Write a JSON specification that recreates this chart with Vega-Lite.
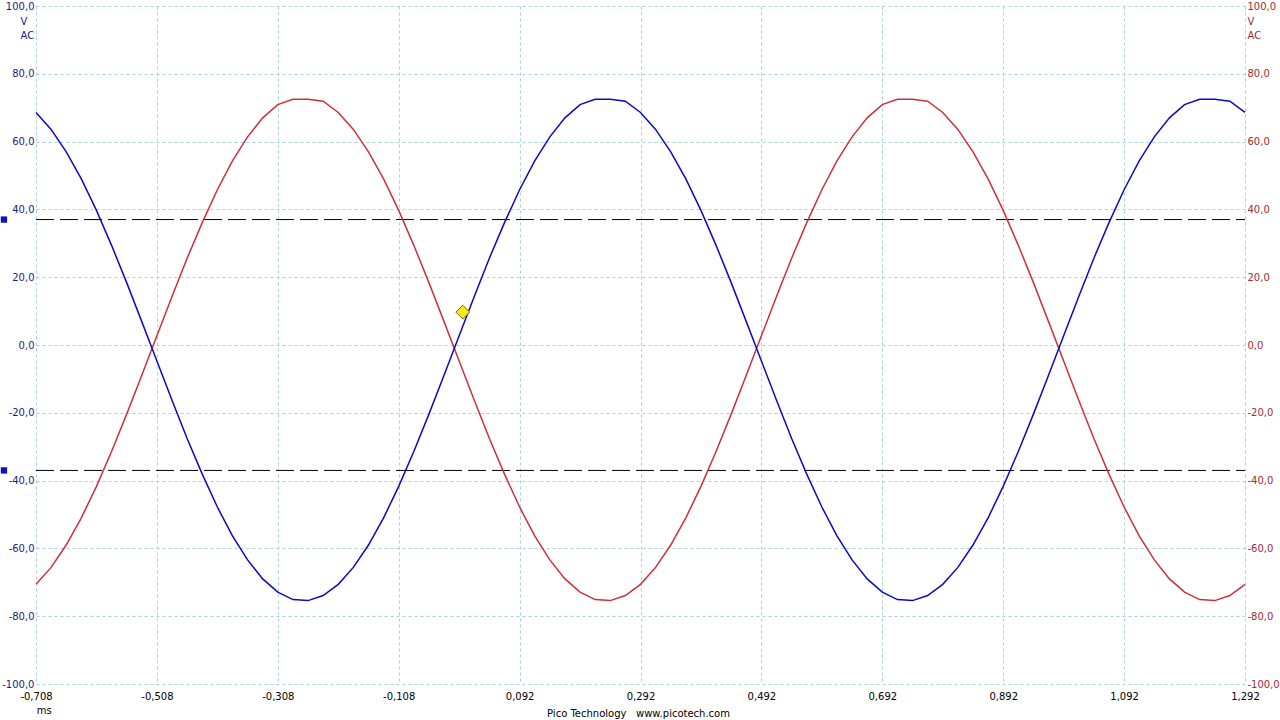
{
  "$schema": "https://vega.github.io/schema/vega-lite/v6.json",
  "width": 1209,
  "height": 678,
  "autosize": {"type": "none"},
  "padding": {"left": 36, "top": 6, "right": 35, "bottom": 36},
  "background": "white",
  "config": {"view": {"stroke": null}, "font": "DejaVu Sans"},
  "title": {"text": "ms", "orient": "bottom", "anchor": "start", "fontSize": 10, "fontWeight": "normal", "color": "#000000", "offset": 0, "dx": 36, "dy": -12},
  "datasets": {
    "wave": [
      {"t": -0.708, "blue": 68.6, "red": -70.6},
      {"t": -0.683, "blue": 63.6, "red": -65.6},
      {"t": -0.658, "blue": 57.0, "red": -59.0},
      {"t": -0.633, "blue": 49.0, "red": -51.0},
      {"t": -0.608, "blue": 39.7, "red": -41.7},
      {"t": -0.583, "blue": 29.4, "red": -31.4},
      {"t": -0.558, "blue": 18.4, "red": -20.4},
      {"t": -0.533, "blue": 6.9, "red": -8.9},
      {"t": -0.508, "blue": -4.7, "red": 2.7},
      {"t": -0.483, "blue": -16.3, "red": 14.3},
      {"t": -0.458, "blue": -27.6, "red": 25.6},
      {"t": -0.433, "blue": -38.1, "red": 36.1},
      {"t": -0.408, "blue": -47.8, "red": 45.8},
      {"t": -0.383, "blue": -56.3, "red": 54.3},
      {"t": -0.358, "blue": -63.4, "red": 61.4},
      {"t": -0.333, "blue": -69.0, "red": 67.0},
      {"t": -0.308, "blue": -72.9, "red": 70.9},
      {"t": -0.283, "blue": -75.1, "red": 72.5},
      {"t": -0.258, "blue": -75.4, "red": 72.5},
      {"t": -0.233, "blue": -73.9, "red": 71.9},
      {"t": -0.208, "blue": -70.6, "red": 68.6},
      {"t": -0.183, "blue": -65.6, "red": 63.6},
      {"t": -0.158, "blue": -59.0, "red": 57.0},
      {"t": -0.133, "blue": -51.0, "red": 49.0},
      {"t": -0.108, "blue": -41.7, "red": 39.7},
      {"t": -0.083, "blue": -31.4, "red": 29.4},
      {"t": -0.058, "blue": -20.4, "red": 18.4},
      {"t": -0.033, "blue": -8.9, "red": 6.9},
      {"t": -0.008, "blue": 2.7, "red": -4.7},
      {"t": 0.017, "blue": 14.3, "red": -16.3},
      {"t": 0.042, "blue": 25.6, "red": -27.6},
      {"t": 0.067, "blue": 36.1, "red": -38.1},
      {"t": 0.092, "blue": 45.8, "red": -47.8},
      {"t": 0.117, "blue": 54.3, "red": -56.3},
      {"t": 0.142, "blue": 61.4, "red": -63.4},
      {"t": 0.167, "blue": 67.0, "red": -69.0},
      {"t": 0.192, "blue": 70.9, "red": -72.9},
      {"t": 0.217, "blue": 72.5, "red": -75.1},
      {"t": 0.242, "blue": 72.5, "red": -75.4},
      {"t": 0.267, "blue": 71.9, "red": -73.9},
      {"t": 0.292, "blue": 68.6, "red": -70.6},
      {"t": 0.317, "blue": 63.6, "red": -65.6},
      {"t": 0.342, "blue": 57.0, "red": -59.0},
      {"t": 0.367, "blue": 49.0, "red": -51.0},
      {"t": 0.392, "blue": 39.7, "red": -41.7},
      {"t": 0.417, "blue": 29.4, "red": -31.4},
      {"t": 0.442, "blue": 18.4, "red": -20.4},
      {"t": 0.467, "blue": 6.9, "red": -8.9},
      {"t": 0.492, "blue": -4.7, "red": 2.7},
      {"t": 0.517, "blue": -16.3, "red": 14.3},
      {"t": 0.542, "blue": -27.6, "red": 25.6},
      {"t": 0.567, "blue": -38.1, "red": 36.1},
      {"t": 0.592, "blue": -47.8, "red": 45.8},
      {"t": 0.617, "blue": -56.3, "red": 54.3},
      {"t": 0.642, "blue": -63.4, "red": 61.4},
      {"t": 0.667, "blue": -69.0, "red": 67.0},
      {"t": 0.692, "blue": -72.9, "red": 70.9},
      {"t": 0.717, "blue": -75.1, "red": 72.5},
      {"t": 0.742, "blue": -75.4, "red": 72.5},
      {"t": 0.767, "blue": -73.9, "red": 71.9},
      {"t": 0.792, "blue": -70.6, "red": 68.6},
      {"t": 0.817, "blue": -65.6, "red": 63.6},
      {"t": 0.842, "blue": -59.0, "red": 57.0},
      {"t": 0.867, "blue": -51.0, "red": 49.0},
      {"t": 0.892, "blue": -41.7, "red": 39.7},
      {"t": 0.917, "blue": -31.4, "red": 29.4},
      {"t": 0.942, "blue": -20.4, "red": 18.4},
      {"t": 0.967, "blue": -8.9, "red": 6.9},
      {"t": 0.992, "blue": 2.7, "red": -4.7},
      {"t": 1.017, "blue": 14.3, "red": -16.3},
      {"t": 1.042, "blue": 25.6, "red": -27.6},
      {"t": 1.067, "blue": 36.1, "red": -38.1},
      {"t": 1.092, "blue": 45.8, "red": -47.8},
      {"t": 1.117, "blue": 54.3, "red": -56.3},
      {"t": 1.142, "blue": 61.4, "red": -63.4},
      {"t": 1.167, "blue": 67.0, "red": -69.0},
      {"t": 1.192, "blue": 70.9, "red": -72.9},
      {"t": 1.217, "blue": 72.5, "red": -75.1},
      {"t": 1.242, "blue": 72.5, "red": -75.4},
      {"t": 1.267, "blue": 71.9, "red": -73.9},
      {"t": 1.292, "blue": 68.6, "red": -70.6}
    ],
    "levels": [{"t": -0.708, "v": 37}, {"t": -0.708, "v": -37}],
    "handles": [{"t": -0.761, "v": 37}, {"t": -0.761, "v": -37}],
    "marker": [{"t": -0.002, "v": 9.7}]
  },
  "encoding": {
    "x": {
      "field": "t",
      "type": "quantitative",
      "scale": {"domain": [-0.708, 1.292], "nice": false, "zero": false},
      "axis": {
        "values": [-0.708, -0.508, -0.308, -0.108, 0.092, 0.292, 0.492, 0.692, 0.892, 1.092, 1.292],
        "labelExpr": "(datum.value < 0 ? '-' : '') + replace(format(abs(datum.value), '.3f'), '.', ',')",
        "grid": true,
        "gridColor": "#a8d0d8",
        "gridDash": [3, 3],
        "gridWidth": 1,
        "domain": false,
        "ticks": false,
        "labelFlush": false,
        "labelOverlap": false,
        "labelColor": "#000000",
        "labelFontSize": 10,
        "labelPadding": 7,
        "title": "Pico Technology\u00a0\u00a0\u00a0www.picotech.com",
        "titleFontSize": 10,
        "titleFontWeight": "normal",
        "titleColor": "#000000",
        "titleAnchor": "start",
        "titleAlign": "center",
        "titleBaseline": "middle",
        "titleX": 602,
        "titleY": 29
      }
    }
  },
  "layer": [
    {
      "data": {"name": "levels"},
      "mark": {"type": "rule", "color": "#000000", "strokeWidth": 1, "strokeDash": [18, 6]},
      "encoding": {
        "y": {"field": "v", "type": "quantitative", "scale": {"domain": [-100, 100], "nice": false, "zero": false}, "axis": null},
        "x": {"datum": -0.708, "type": "quantitative", "scale": {"domain": [-0.708, 1.292], "nice": false, "zero": false}},
        "x2": {"datum": 1.292}
      }
    },
    {
      "data": {"name": "wave"},
      "mark": {"type": "line", "color": "#cc3038", "strokeWidth": 1.5},
      "encoding": {
        "y": {
          "field": "red",
          "type": "quantitative",
          "scale": {"domain": [-100, 100], "nice": false, "zero": false},
          "axis": {
            "orient": "right",
            "values": [-100, -80, -60, -40, -20, 0, 20, 40, 60, 80, 100],
            "labelExpr": "(datum.value < 0 ? '-' : '') + replace(format(abs(datum.value), '.1f'), '.', ',')",
            "grid": false,
            "domain": false,
            "ticks": false,
            "labelFlush": false,
            "labelOverlap": false,
            "labelColor": "#9b2b36",
            "labelFontSize": 10,
            "labelPadding": 2,
            "title": ["V", "AC"],
            "titleAngle": 0,
            "titleAlign": "left",
            "titleBaseline": "top",
            "titleX": 2,
            "titleY": 10,
            "titleLineHeight": 14,
            "titleColor": "#9b2b36",
            "titleFontSize": 10,
            "titleFontWeight": "normal"
          }
        }
      }
    },
    {
      "data": {"name": "wave"},
      "mark": {"type": "line", "color": "#0a0ac4", "strokeWidth": 1.5},
      "encoding": {
        "y": {
          "field": "blue",
          "type": "quantitative",
          "scale": {"domain": [-100, 100], "nice": false, "zero": false},
          "axis": {
            "orient": "left",
            "values": [-100, -80, -60, -40, -20, 0, 20, 40, 60, 80, 100],
            "labelExpr": "(datum.value < 0 ? '-' : '') + replace(format(abs(datum.value), '.1f'), '.', ',')",
            "grid": true,
            "gridColor": "#a8d0d8",
            "gridDash": [3, 3],
            "gridWidth": 1,
            "domain": false,
            "ticks": false,
            "labelFlush": false,
            "labelOverlap": false,
            "labelColor": "#1c1c80",
            "labelFontSize": 10,
            "labelPadding": 2,
            "title": ["V", "AC"],
            "titleAngle": 0,
            "titleAlign": "left",
            "titleBaseline": "top",
            "titleX": -16,
            "titleY": 10,
            "titleLineHeight": 14,
            "titleColor": "#1c1c80",
            "titleFontSize": 10,
            "titleFontWeight": "normal"
          }
        }
      }
    },
    {
      "data": {"name": "handles"},
      "mark": {"type": "square", "color": "#1010c8", "filled": true, "size": 40, "opacity": 1},
      "encoding": {
        "y": {"field": "v", "type": "quantitative", "scale": {"domain": [-100, 100], "nice": false, "zero": false}, "axis": null}
      }
    },
    {
      "data": {"name": "marker"},
      "mark": {"type": "point", "shape": "diamond", "filled": true, "fill": "#f5eb10", "stroke": "#6b6b20", "strokeWidth": 1, "size": 190, "opacity": 1},
      "encoding": {
        "y": {"field": "v", "type": "quantitative", "scale": {"domain": [-100, 100], "nice": false, "zero": false}, "axis": null}
      }
    }
  ],
  "resolve": {"scale": {"y": "independent"}}
}
